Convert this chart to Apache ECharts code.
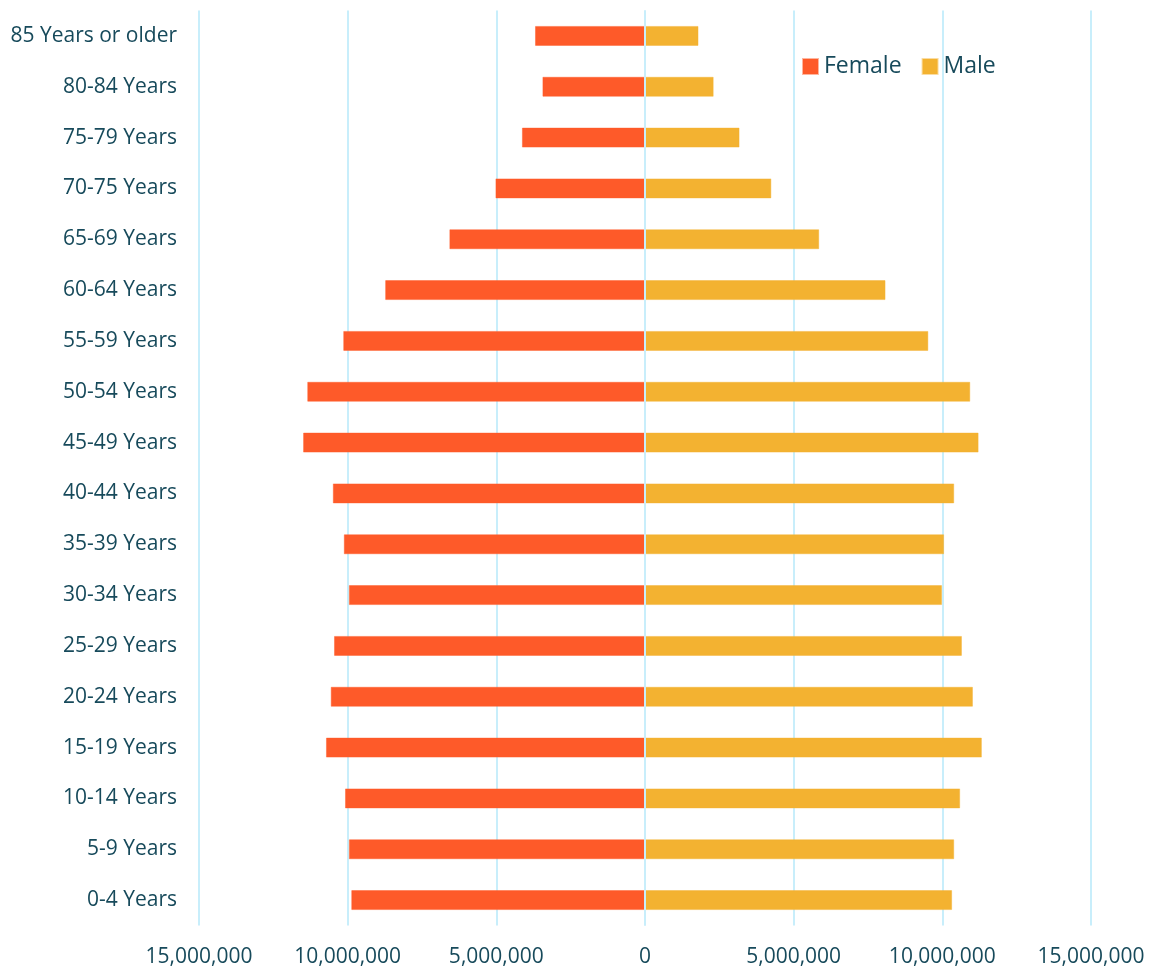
<!DOCTYPE html>
<html>
<head>
<meta charset="utf-8">
<title>Population Pyramid</title>
<script src="https://cdn.jsdelivr.net/npm/echarts@6/dist/echarts.min.js"></script>
<style>
html, body { margin: 0; padding: 0; background: #ffffff; }
#main { width: 1150px; height: 969px; }
</style>
</head>
<body>
<div id="main"></div>
<script type="text/javascript">
	// age groups, bottom to top
	var ageGroups = [ '0-4 Years', '5-9 Years', '10-14 Years', '15-19 Years',
			'20-24 Years', '25-29 Years', '30-34 Years', '35-39 Years',
			'40-44 Years', '45-49 Years', '50-54 Years', '55-59 Years',
			'60-64 Years', '65-69 Years', '70-75 Years', '75-79 Years',
			'80-84 Years', '85 Years or older' ];

	// female counts (drawn to the left)
	var femaleValues = [ 9880000, 9960000, 10090000, 10730000, 10570000,
			10460000, 9960000, 10130000, 10500000, 11500000, 11360000,
			10150000, 8740000, 6580000, 5030000, 4140000, 3450000, 3700000 ];

	// male counts (drawn to the right)
	var maleValues = [ 10330000, 10400000, 10600000, 11330000, 11030000,
			10660000, 9990000, 10060000, 10400000, 11220000, 10940000,
			9530000, 8090000, 5860000, 4250000, 3180000, 2310000, 1800000 ];

	var textColor = '#174a5b';
	var gridColor = '#c8eefb';
	var fontName = 'Open Sans';

	var myChart = echarts.init(document.getElementById('main'));

	option = {
		animation : false,
		textStyle : {
			fontFamily : fontName
		},
		legend : {
			data : [ 'Female', 'Male' ],
			left : 797,
			top : 50,
			itemWidth : 15,
			itemHeight : 15,
			itemGap : 20,
			icon : 'rect',
			textStyle : {
				color : textColor,
				fontSize : 23,
				fontFamily : fontName,
				padding : [ 0, 0, 0, 1 ]
			}
		},
		grid : {
			left : 199,
			right : 59,
			top : 10.5,
			bottom : 43.5,
			containLabel : false
		},
		xAxis : {
			type : 'value',
			min : -15000000,
			max : 15000000,
			interval : 5000000,
			axisLine : { show : false },
			axisTick : { show : false },
			splitLine : {
				lineStyle : { color : gridColor, width : 2 }
			},
			axisLabel : {
				margin : 21,
				color : textColor,
				fontSize : 21,
				fontFamily : fontName,
				formatter : function(v) {
					return Math.abs(v).toLocaleString('en-US');
				}
			}
		},
		yAxis : {
			type : 'category',
			data : ageGroups,
			axisLine : { show : false },
			axisTick : { show : false },
			axisLabel : {
				margin : 22,
				color : textColor,
				fontSize : 21,
				fontFamily : fontName
			}
		},
		series : [ {
			name : 'Female',
			type : 'bar',
			barWidth : 20,
			barGap : '-100%',
			data : femaleValues.map(function(v) { return -v; }),
			itemStyle : {
				color : '#fe5a29',
				borderColor : 'rgba(254,90,41,0.45)',
				borderWidth : 1
			}
		}, {
			name : 'Male',
			type : 'bar',
			barWidth : 20,
			data : maleValues,
			itemStyle : {
				color : '#f3b231',
				borderColor : 'rgba(243,178,49,0.45)',
				borderWidth : 1
			},
			// 零线画在柱子上面
			markLine : {
				silent : true,
				symbol : [ 'none', 'none' ],
				label : { show : false },
				lineStyle : { color : gridColor, width : 2, type : 'solid' },
				data : [ { xAxis : 0 } ]
			}
		} ]
	};

	myChart.setOption(option);
</script>
</body>
</html>
